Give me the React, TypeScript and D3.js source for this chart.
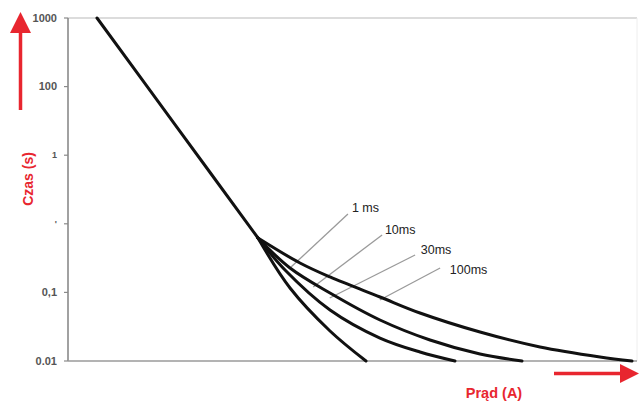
import React from "react";
import * as d3 from "d3";

// Y ticks (time, s) and their printed labels as in the picture
const yTicks = [1000, 100, 10, 1, 0.1, 0.01];
const yTickLabels = ["1000", "100", "1", "'", "0,1", "0.01"];

// Current (arbitrary units, 0..1000) vs time (s)
const mainX = [51, 191.6, 333.9];
const mainY = [1000, 25.5, 0.621];

const c1msX = [333.9, 390.2, 460.5, 523.7];
const c1msY = [0.621, 0.1159, 0.0274, 0.01];

const c10msX = [333.9, 381.4, 460.5, 548.3, 618.6, 680.1];
const c10msY = [0.621, 0.212, 0.0554, 0.0216, 0.01353, 0.01];

const c30msX = [333.9, 390.2, 460.5, 548.3, 636.2, 724.1, 797.9];
const c30msY = [0.621, 0.2268, 0.098, 0.0396, 0.02024, 0.01265, 0.01];

const c100msX = [333.9, 407.7, 460.5, 548.3, 618.6, 724.1, 829.5, 935, 991.2];
const c100msY = [0.621, 0.2683, 0.1677, 0.0857, 0.0501, 0.02646, 0.016, 0.01144, 0.01];

const seriesNames = ["1 ms", "10ms", "30ms", "100ms"];
// label anchor (x, y) and leader line (from x,y to x,y) in data units
const labelX = [499, 557, 620, 671];
const labelY = [1.7, 0.812, 0.415, 0.212];
const leaderX1 = [492, 552, 610, 654];
const leaderY1 = [1.39, 0.687, 0.351, 0.227];
const leaderX2 = [392, 431, 460, 548];
const leaderY2 = [0.234, 0.12, 0.0828, 0.0775];

const W = 639;
const H = 401;
const left = 68;
const right = 637;
const top = 18;
const bottom = 361;

export default function App() {
  const x = d3.scaleLinear().domain([0, 1000]).range([left, right]);
  const y = d3.scaleLog().domain([0.01, 1000]).range([bottom, top]);
  const line = d3
    .line<[number, number]>()
    .x((d) => x(d[0]))
    .y((d) => y(d[1]))
    .curve(d3.curveCatmullRom.alpha(0.5));
  const zip = (xs: number[], ys: number[]) => xs.map((v, i) => [v, ys[i]] as [number, number]);
  const curves = [
    zip(mainX, mainY),
    zip(c1msX, c1msY),
    zip(c10msX, c10msY),
    zip(c30msX, c30msY),
    zip(c100msX, c100msY),
  ];
  const red = "#e8262f";
  const font = "'Liberation Sans', Arial, sans-serif";

  return (
    <svg
      width={W}
      height={H}
      style={{ position: "absolute", left: 0, top: 0, background: "#fff" }}
    >
      <rect width={W} height={H} fill="#fff" />
      {/* frame */}
      <line x1={left} x2={right} y1={top} y2={top} stroke="#d0d0d0" strokeWidth={1.5} />
      <line x1={right} x2={right} y1={top} y2={bottom} stroke="#eeeeee" strokeWidth={1} />
      <line x1={left} x2={left} y1={top} y2={bottom} stroke="#8a8a8a" strokeWidth={1.6} />
      <line x1={left} x2={right} y1={bottom} y2={bottom} stroke="#9a9a9a" strokeWidth={1.6} />
      {/* y ticks */}
      {yTicks.map((t, i) => (
        <g key={t}>
          <line x1={left - 4} x2={left} y1={y(t)} y2={y(t)} stroke="#8a8a8a" strokeWidth={1.2} />
          <text
            x={57}
            y={y(t)}
            dy="0.35em"
            textAnchor="end"
            fontFamily={font}
            fontSize={i === 2 || i === 3 ? 9 : 11}
            fontWeight="bold"
            fill="#555"
          >
            {yTickLabels[i]}
          </text>
        </g>
      ))}
      {/* leaders */}
      {seriesNames.map((n, i) => (
        <line
          key={"l" + n}
          x1={x(leaderX1[i])}
          y1={y(leaderY1[i])}
          x2={x(leaderX2[i])}
          y2={y(leaderY2[i])}
          stroke="#9a9a9a"
          strokeWidth={1.3}
        />
      ))}
      {/* curves */}
      {curves.map((c, i) => (
        <path key={i} d={line(c) || ""} fill="none" stroke="#111" strokeWidth={3} strokeLinecap="round" />
      ))}
      {/* labels */}
      {seriesNames.map((n, i) => (
        <text
          key={"t" + n}
          x={x(labelX[i])}
          y={y(labelY[i])}
          dy="0.35em"
          fontFamily={font}
          fontSize={12.5}
          fill="#222"
        >
          {n}
        </text>
      ))}
      {/* y axis title and arrow */}
      <line x1={20.5} x2={20.5} y1={110} y2={30} stroke={red} strokeWidth={3.5} />
      <polygon points="20.5,12 10,33 31,33" fill={red} />
      <text
        transform="translate(33,179) rotate(-90)"
        textAnchor="middle"
        fontFamily={font}
        fontSize={14}
        fontWeight="bold"
        fill={red}
      >
        Czas (s)
      </text>
      {/* x axis title and arrow */}
      <line x1={554} x2={625} y1={373.5} y2={373.5} stroke={red} strokeWidth={3.5} />
      <polygon points="639,373.5 620,364 620,383" fill={red} />
      <text
        x={494}
        y={398}
        textAnchor="middle"
        fontFamily={font}
        fontSize={14.5}
        fontWeight="bold"
        fill={red}
      >
        Prąd (A)
      </text>
    </svg>
  );
}
